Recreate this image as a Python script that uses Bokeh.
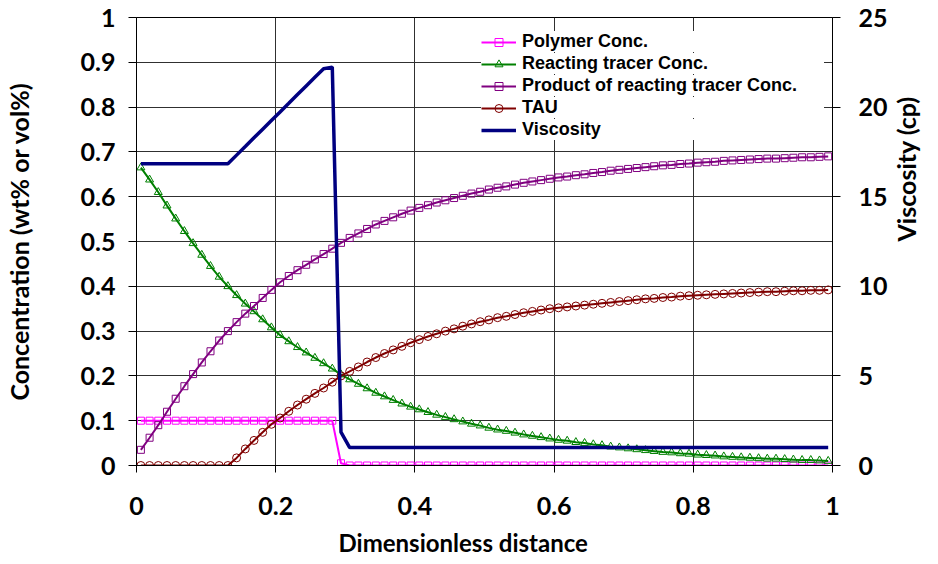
import math
from bokeh.plotting import figure
from bokeh.models import (Range1d, LinearAxis, FixedTicker, NumeralTickFormatter,
                          Legend, LegendItem, Title)
from bokeh.embed import file_html
from bokeh.resources import INLINE

# ---------------- data ----------------
distance = [0.0063, 0.0188, 0.0313, 0.0438, 0.0563, 0.0688, 0.0813, 0.0938, 0.1063, 0.1188,
            0.1313, 0.1438, 0.1563, 0.1688, 0.1813, 0.1938, 0.2063, 0.2188, 0.2313, 0.2438,
            0.2563, 0.2688, 0.2813, 0.2938, 0.3063, 0.3188, 0.3313, 0.3438, 0.3563, 0.3688,
            0.3813, 0.3938, 0.4063, 0.4188, 0.4313, 0.4438, 0.4563, 0.4688, 0.4813, 0.4938,
            0.5063, 0.5188, 0.5313, 0.5438, 0.5563, 0.5688, 0.5813, 0.5938, 0.6063, 0.6188,
            0.6313, 0.6438, 0.6563, 0.6688, 0.6813, 0.6938, 0.7063, 0.7188, 0.7313, 0.7438,
            0.7563, 0.7688, 0.7813, 0.7938, 0.8063, 0.8188, 0.8313, 0.8438, 0.8563, 0.8688,
            0.8813, 0.8938, 0.9063, 0.9188, 0.9313, 0.9438, 0.9563, 0.9688, 0.9813, 0.9938]

polymer_conc = [0.1, 0.1, 0.1, 0.1, 0.1, 0.1, 0.1, 0.1, 0.1, 0.1,
                0.1, 0.1, 0.1, 0.1, 0.1, 0.1, 0.1, 0.1, 0.1, 0.1,
                0.1, 0.1, 0.1, 0.005, 0.0, 0.0, 0.0, 0.0, 0.0, 0.0,
                0.0, 0.0, 0.0, 0.0, 0.0, 0.0, 0.0, 0.0, 0.0, 0.0,
                0.0, 0.0, 0.0, 0.0, 0.0, 0.0, 0.0, 0.0, 0.0, 0.0,
                0.0, 0.0, 0.0, 0.0, 0.0, 0.0, 0.0, 0.0, 0.0, 0.0,
                0.0, 0.0, 0.0, 0.0, 0.0, 0.0, 0.0, 0.0, 0.0, 0.0,
                0.0, 0.0, 0.0, 0.0, 0.0, 0.0, 0.0, 0.0, 0.0, 0.0]

reacting_tracer = [0.665, 0.638, 0.610, 0.580, 0.551, 0.523, 0.496, 0.470, 0.445, 0.421,
                   0.400, 0.380, 0.361, 0.344, 0.326, 0.308, 0.291, 0.277, 0.264, 0.252,
                   0.240, 0.228, 0.216, 0.203, 0.192, 0.182, 0.172, 0.162, 0.154, 0.146,
                   0.138, 0.131, 0.125, 0.119, 0.113, 0.108, 0.103, 0.098, 0.093, 0.089,
                   0.084, 0.080, 0.077, 0.073, 0.069, 0.066, 0.063, 0.060, 0.057, 0.055,
                   0.052, 0.050, 0.047, 0.045, 0.042, 0.040, 0.038, 0.036, 0.034, 0.032,
                   0.030, 0.029, 0.027, 0.026, 0.024, 0.023, 0.022, 0.020, 0.019, 0.018,
                   0.017, 0.016, 0.015, 0.015, 0.014, 0.013, 0.012, 0.012, 0.011, 0.010]

product_tracer = [0.035, 0.062, 0.090, 0.120, 0.149, 0.177, 0.204, 0.230, 0.255, 0.279,
                  0.300, 0.320, 0.339, 0.356, 0.374, 0.392, 0.409, 0.423, 0.436, 0.448,
                  0.460, 0.472, 0.484, 0.497, 0.508, 0.518, 0.528, 0.538, 0.546, 0.554,
                  0.562, 0.569, 0.575, 0.581, 0.587, 0.592, 0.597, 0.602, 0.607, 0.611,
                  0.616, 0.620, 0.623, 0.627, 0.631, 0.634, 0.637, 0.640, 0.643, 0.645,
                  0.648, 0.650, 0.653, 0.655, 0.658, 0.660, 0.662, 0.664, 0.666, 0.668,
                  0.670, 0.671, 0.673, 0.674, 0.676, 0.677, 0.678, 0.680, 0.681, 0.682,
                  0.683, 0.684, 0.685, 0.685, 0.686, 0.687, 0.688, 0.688, 0.689, 0.690]

tau = [0.0, 0.0, 0.0, 0.0, 0.0, 0.0, 0.0, 0.0, 0.0, 0.0,
       0.0, 0.017, 0.037, 0.056, 0.074, 0.092, 0.106, 0.121, 0.135, 0.148,
       0.161, 0.173, 0.186, 0.200, 0.210, 0.220, 0.231, 0.241, 0.250, 0.258,
       0.266, 0.274, 0.281, 0.288, 0.294, 0.300, 0.305, 0.311, 0.316, 0.321,
       0.325, 0.330, 0.333, 0.337, 0.341, 0.344, 0.347, 0.350, 0.352, 0.354,
       0.356, 0.358, 0.360, 0.362, 0.364, 0.366, 0.368, 0.370, 0.372, 0.373,
       0.375, 0.376, 0.378, 0.379, 0.380, 0.381, 0.382, 0.383, 0.384, 0.385,
       0.386, 0.387, 0.388, 0.388, 0.389, 0.390, 0.390, 0.391, 0.391, 0.392]

viscosity = [16.84, 16.84, 16.84, 16.84, 16.84, 16.84, 16.84, 16.84, 16.84, 16.84,
             16.84, 17.32, 17.80, 18.29, 18.77, 19.25, 19.73, 20.21, 20.70, 21.18,
             21.66, 22.14, 22.23, 1.86, 1.00, 1.00, 1.00, 1.00, 1.00, 1.00,
             1.00, 1.00, 1.00, 1.00, 1.00, 1.00, 1.00, 1.00, 1.00, 1.00,
             1.00, 1.00, 1.00, 1.00, 1.00, 1.00, 1.00, 1.00, 1.00, 1.00,
             1.00, 1.00, 1.00, 1.00, 1.00, 1.00, 1.00, 1.00, 1.00, 1.00,
             1.00, 1.00, 1.00, 1.00, 1.00, 1.00, 1.00, 1.00, 1.00, 1.00,
             1.00, 1.00, 1.00, 1.00, 1.00, 1.00, 1.00, 1.00, 1.00, 1.00]

x_ticks = [0, 0.2, 0.4, 0.6, 0.8, 1.0]
y_ticks = [0, 0.1, 0.2, 0.3, 0.4, 0.5, 0.6, 0.7, 0.8, 0.9, 1.0]
visc_ticks = [0, 5, 10, 15, 20, 25]

series_names = ["Polymer Conc.", "Reacting tracer Conc.",
                "Product of reacting tracer Conc.", "TAU", "Viscosity"]

# ---------------- figure ----------------
FONT = "Lato"
LEGEND_FONT = "Liberation Sans"
p = figure(width=938, height=564, output_backend="svg", toolbar_location=None,
           x_range=Range1d(0, 1), y_range=Range1d(0, 1),
           min_border_left=136, min_border_right=103,
           min_border_top=17, min_border_bottom=99)
p.outline_line_color = "black"
p.outline_line_width = 1
p.background_fill_color = "white"
p.border_fill_color = "white"

p.extra_y_ranges = {"visc": Range1d(0, 25)}

# axes
p.xaxis.ticker = FixedTicker(ticks=x_ticks)
p.xaxis.formatter = NumeralTickFormatter(format="0.[0]")
p.yaxis.ticker = FixedTicker(ticks=y_ticks)
p.yaxis.formatter = NumeralTickFormatter(format="0.[0]")

raxis = LinearAxis(y_range_name="visc", ticker=FixedTicker(ticks=visc_ticks))
p.add_layout(raxis, "right")

for ax in (p.xaxis[0], p.yaxis[0], raxis):
    ax.axis_line_color = "black"
    ax.axis_line_width = 1
    ax.major_tick_line_color = "black"
    ax.major_tick_in = 0
    ax.major_tick_out = 8
    ax.minor_tick_line_color = None
    ax.major_label_text_font = FONT
    ax.major_label_text_font_style = "bold"
    ax.major_label_text_font_size = "25px"
    ax.major_label_text_color = "black"
    ax.axis_label_text_font = FONT
    ax.axis_label_text_font_style = "bold"
    ax.axis_label_text_font_size = "25px"
    ax.axis_label_text_color = "black"

p.xaxis.major_tick_out = 7
p.xaxis.major_label_standoff = 24
p.yaxis.major_label_standoff = 13
raxis.major_label_standoff = 18

p.yaxis.axis_label = "Concentration (wt% or vol%)"
p.yaxis.axis_label_standoff = 44
raxis.axis_label = "Viscosity (cp)"
raxis.axis_label_standoff = 15
try:
    # read bottom-to-top, like the left axis title
    raxis.axis_label_orientation = math.pi / 2
except Exception:
    pass

# x axis title, shifted left like the original
xtitle = Title(text="Dimensionless distance", align="left", offset=202,
               text_font=FONT, text_font_style="bold", text_font_size="24px",
               text_color="black", standoff=16)
p.add_layout(xtitle, "below")

# grid
p.xgrid.ticker = FixedTicker(ticks=x_ticks)
p.ygrid.ticker = FixedTicker(ticks=y_ticks)
for g in (p.xgrid[0], p.ygrid[0]):
    g.grid_line_color = "#303030"
    g.grid_line_width = 1

# ---------------- series ----------------
l1 = p.line(distance, polymer_conc, line_color="#FF00FF", line_width=2)
m1 = p.scatter(distance, polymer_conc, marker="square", size=7,
               line_color="#FF00FF", fill_color=None, line_width=1)

l2 = p.line(distance, reacting_tracer, line_color="#008000", line_width=2)
m2 = p.scatter(distance, reacting_tracer, marker="triangle", size=8,
               line_color="#008000", fill_color=None, line_width=1)

l3 = p.line(distance, product_tracer, line_color="#800080", line_width=2)
m3 = p.scatter(distance, product_tracer, marker="square", size=7,
               line_color="#800080", fill_color=None, line_width=1)

l4 = p.line(distance, tau, line_color="#800000", line_width=2)
m4 = p.scatter(distance, tau, marker="circle", size=8,
               line_color="#800000", fill_color=None, line_width=1)

l5 = p.line(distance, viscosity, line_color="#000080", line_width=3.5,
            y_range_name="visc")

# one legend box per entry so the rows can sit as tightly as in the original
entries = [
    (series_names[0], [l1, m1], 413),
    (series_names[1], [l2, m2], 391),
    (series_names[2], [l3, m3], 369),
    (series_names[3], [l4, m4], 347),
    (series_names[4], [l5], 325),
]
for name, rends, ypos in reversed(entries):
    lg = Legend(items=[LegendItem(label=name, renderers=rends)])
    lg.location = (345, ypos)
    lg.background_fill_color = "white"
    lg.background_fill_alpha = 1.0
    lg.border_line_color = None
    lg.label_text_font = LEGEND_FONT
    lg.label_text_font_style = "bold"
    lg.label_text_font_size = "18px"
    lg.label_text_color = "black"
    lg.glyph_width = 35
    lg.glyph_height = 20
    lg.label_height = 20
    lg.label_width = 302
    lg.spacing = 0
    lg.padding = 1
    lg.margin = 0
    lg.label_standoff = 6
    p.add_layout(lg)

with open("out.html", "w") as f:
    f.write(file_html(p, INLINE))
